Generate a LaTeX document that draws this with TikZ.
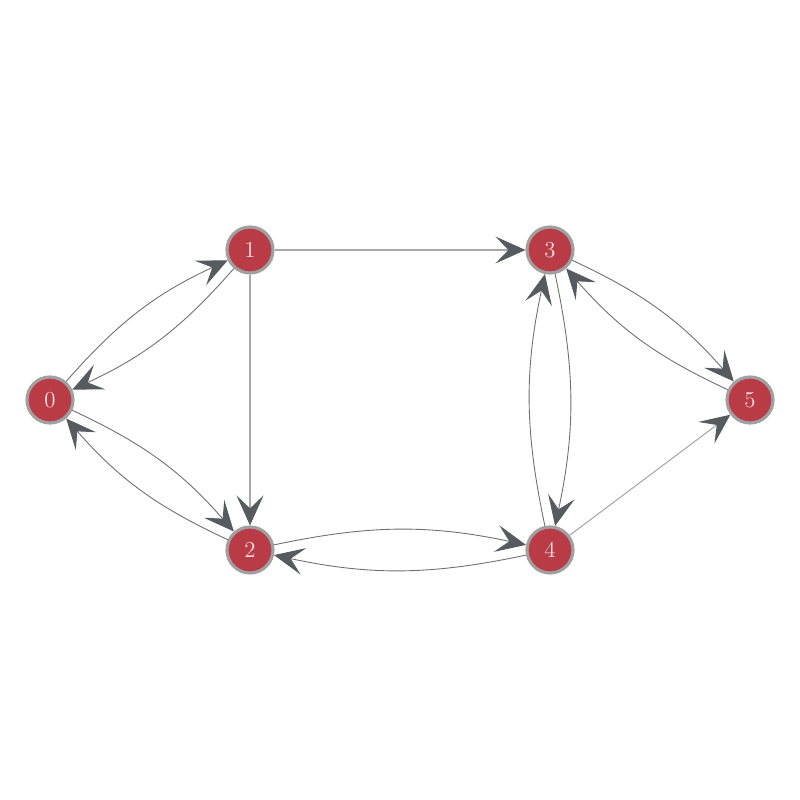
\documentclass[tikz,border=0pt]{standalone}
\usetikzlibrary{arrows.meta}
\definecolor{nodered}{HTML}{B83B45}
\definecolor{ringgray}{HTML}{A0A0A0}
\definecolor{tipgray}{HTML}{555B5E}
\definecolor{linegray}{HTML}{6E6E6E}
\definecolor{labelpink}{HTML}{F6DDE0}
\begin{document}
\begin{tikzpicture}[every node/.style={circle, draw=ringgray, line width=1.8pt, fill=nodered, minimum size=0.92cm, inner sep=0pt, text=labelpink, font=\fontsize{13}{15}\selectfont},
        >={Stealth[length=0.6cm, width=0.54cm, inset=0.26cm, color=tipgray]}]
        \useasboundingbox (0,0) rectangle (16,16);
        \node (0) at (1, 8) {0};
        \node (1) at (5, 11) {1};
        \node (2) at (5, 5) {2};
        \node (3) at (11, 11) {3};
        \node (4) at (11, 5) {4};
        \node (5) at (15, 8) {5};
        \draw[->, linegray!60, line width=0.6pt] (1) -- (3);
        \draw[->, linegray!60, line width=0.6pt] (1) -- (2);
        \draw[->, linegray!60, line width=0.6pt] (4) -- (5);
        \foreach \a/\b in {0/1, 1/0, 0/2, 2/0, 2/4, 4/2, 3/4, 4/3, 3/5, 5/3}
            \draw[->, bend left=12, linegray, line width=0.5pt] (\a) to (\b);
    \end{tikzpicture}
\end{document}
